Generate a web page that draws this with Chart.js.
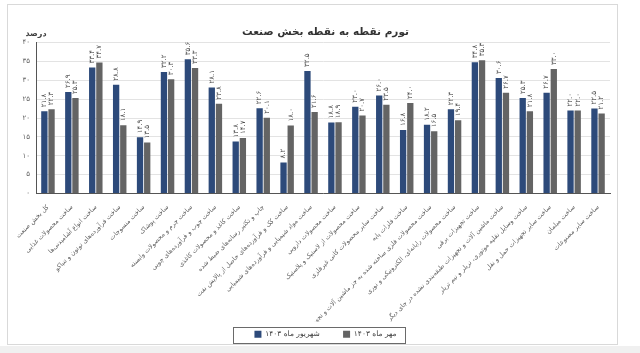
<!DOCTYPE html>
<html><head><meta charset="utf-8">
<script src="https://cdn.jsdelivr.net/npm/chart.js@4.4.1/dist/chart.umd.min.js"></script>
<style>
html,body{margin:0;padding:0;background:#fff;}
#wrap{position:relative;width:640px;height:353px;overflow:hidden;}
#frame{position:absolute;left:7px;top:4px;width:609px;height:339px;border:1px solid #d9d9d9;pointer-events:none;}
#band{position:absolute;left:0;top:346px;width:640px;height:7px;background:#f0f0f0;}
canvas{position:absolute;left:0;top:0;}
</style></head>
<body><div id="wrap"><canvas id="c" width="640" height="353"></canvas><div id="frame"></div><div id="band"></div></div>
<script>
const categories = [
"کل بخش صنعت",
"ساخت محصولات غذایی",
"ساخت انواع آشامیدنی‌ها",
"ساخت فرآورده‌های توتون و تنباکو",
"ساخت منسوجات",
"ساخت پوشاک",
"ساخت چرم و محصولات وابسته",
"ساخت چوب و فرآورده‌های چوبی",
"ساخت کاغذ و محصولات کاغذی",
"چاپ و تکثیر رسانه‌های ضبط شده",
"ساخت کک و فرآورده‌های حاصل از پالایش نفت",
"ساخت مواد شیمیایی و فرآورده‌های شیمیایی",
"ساخت محصولات دارویی",
"ساخت محصولات از لاستیک و پلاستیک",
"ساخت سایر محصولات کانی غیرفلزی",
"ساخت فلزات پایه",
"ساخت محصولات فلزی ساخته شده به جز ماشین آلات و تجهیزات",
"ساخت محصولات رایانه‌ای، الکترونیکی و نوری",
"ساخت تجهیزات برقی",
"ساخت ماشین آلات و تجهیزات طبقه‌بندی نشده در جای دیگر",
"ساخت وسایل نقلیه موتوری، تریلر و نیم تریلر",
"ساخت سایر تجهیزات حمل و نقل",
"ساخت مبلمان",
"ساخت سایر مصنوعات"
];
const shahrivar1403 = [21.8,26.9,33.4,28.8,14.9,32.2,35.6,28.1,13.8,22.6,8.2,32.5,18.8,23.0,26.0,16.8,18.2,22.3,34.8,30.6,25.3,26.7,22.0,22.5];
const mehr1403     = [22.3,25.3,34.7,18.1,13.5,30.3,33.3,23.8,14.7,20.1,18.0,21.6,18.9,20.7,23.5,24.0,16.5,19.4,35.3,26.7,21.8,33.0,22.0,21.2];
const seriesNames = ["شهریور ماه ۱۴۰۳","مهر ماه ۱۴۰۳"];
const yTicks = [0,5,10,15,20,25,30,35,40];
const titleText = "تورم نقطه به نقطه بخش صنعت";
const unitText = "درصد";

const FA = "DejaVu Sans, Noto Sans, sans-serif";
function fa(s){return String(s).replace(/[0-9]/g,d=>"۰۱۲۳۴۵۶۷۸۹"[d]);}
function fmt(v){return fa(v.toFixed(1));}

const labelPlugin = {
  id:'vlabels',
  afterDatasetsDraw(chart){
    const ctx = chart.ctx;
    ctx.save();
    ctx.font = "7px " + FA;
    ctx.fillStyle = "#4a4a4a";
    ctx.textAlign = "left";
    ctx.textBaseline = "middle";
    chart.data.datasets.forEach((ds,i)=>{
      const meta = chart.getDatasetMeta(i);
      meta.data.forEach((bar,j)=>{
        ctx.save();
        ctx.translate(bar.x, bar.y - 4);
        ctx.rotate(-Math.PI/2);
        ctx.fillText(fmt(ds.data[j]),0,0);
        ctx.restore();
      });
    });
    ctx.font = "bold 8px " + FA;
    ctx.fillStyle = "#404040";
    ctx.textAlign = "center";
    ctx.fillText(unitText, 36, 34);
    ctx.restore();
  },
  afterDraw(chart){
    const lg = chart.legend;
    if(!lg || !lg.legendHitBoxes || !lg.legendHitBoxes.length) return;
    const hb = lg.legendHitBoxes;
    let l=Infinity,r=-Infinity,t=Infinity,b=-Infinity;
    hb.forEach(h=>{l=Math.min(l,h.left);r=Math.max(r,h.left+h.width);t=Math.min(t,h.top);b=Math.max(b,h.top+h.height);});
    const ctx = chart.ctx;
    ctx.save();
    ctx.strokeStyle = "#6a6a6a";
    ctx.lineWidth = 1;
    ctx.strokeRect(Math.round(l-21)+0.5, Math.round(t-4)+0.5, Math.round(r-l+30), Math.round(b-t+8));
    ctx.restore();
  }
};

new Chart(document.getElementById('c'),{
  type:'bar',
  data:{
    labels:categories,
    datasets:[
      {label:seriesNames[0],data:shahrivar1403,backgroundColor:"#2d4a7a"},
      {label:seriesNames[1],data:mehr1403,backgroundColor:"#646464"}
    ]
  },
  options:{
    responsive:false,
    animation:false,
    layout:{padding:{left:11,right:0,top:0,bottom:5}},
    datasets:{bar:{categoryPercentage:0.6,barPercentage:0.88}},
    plugins:{
      title:{display:true,text:titleText,color:"#333",font:{family:FA,size:10.5,weight:'bold'},padding:{top:26,bottom:4}},
      legend:{position:'bottom',labels:{boxWidth:7,boxHeight:7,font:{family:FA,size:7.5},color:"#404040",padding:9,
        generateLabels(chart){
          const items = Chart.defaults.plugins.legend.labels.generateLabels(chart);
          items.forEach((it,i)=>{ if(i<items.length-1) it.text = it.text + "\u00A0\u00A0\u00A0\u00A0\u00A0\u00A0"; });
          return items;
        }}},
      tooltip:{enabled:false}
    },
    scales:{
      x:{
        grid:{display:false},
        border:{color:"#555",width:1},
        ticks:{minRotation:45,maxRotation:45,autoSkip:false,font:{family:FA,size:6.5},color:"#626262",padding:2},
        afterFit(s){s.height=128;}
      },
      y:{
        min:0,max:40,
        afterBuildTicks(s){s.ticks=yTicks.map(v=>({value:v}));},
        grid:{color:"#e3e3e3",drawTicks:false},
        border:{color:"#555",width:1},
        ticks:{callback:v=>fa(v),font:{family:FA,size:7},color:"#666",padding:6},
        afterFit(s){s.width=25;}
      },
      y2:{
        position:'right',
        min:0,max:40,
        grid:{display:false,drawTicks:false},
        border:{display:false},
        ticks:{display:false},
        afterFit(s){s.width=30;}
      }
    }
  },
  plugins:[labelPlugin]
});
</script></body></html>
